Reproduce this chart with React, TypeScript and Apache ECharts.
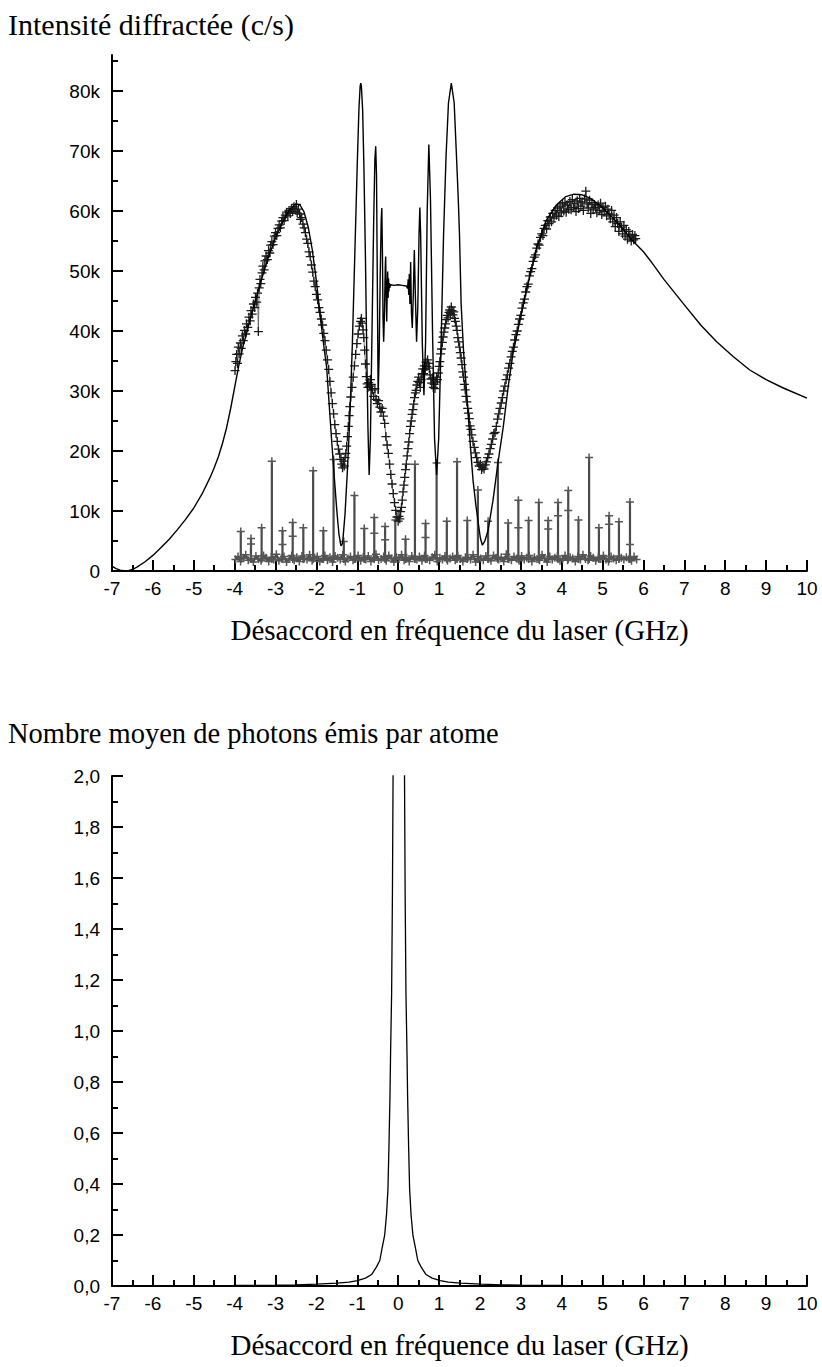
import React, { useEffect, useRef } from "react";
import * as echarts from "echarts";

// ---------- Top chart: diffracted intensity (kc/s) vs laser detuning (GHz) ----------
const topYMajor = [0, 10, 20, 30, 40, 50, 60, 70, 80];
const topYMinor = [5, 15, 25, 35, 45, 55, 65, 75, 85];

// fitted curve (x GHz, y kc/s)
const fitCurve: [number, number][] = [
  [-7.0, 0.8], [-6.9, 0.4], [-6.8, 0.15], [-6.7, 0.05], [-6.6, 0.05], [-6.5, 0.25], [-6.4, 0.6],
  [-6.2, 1.5], [-6.0, 2.6], [-5.8, 3.9], [-5.6, 5.3], [-5.4, 6.9], [-5.2, 8.6], [-5.0, 10.5],
  [-4.8, 12.8], [-4.6, 15.6], [-4.5, 17.2], [-4.4, 19.0], [-4.3, 21.2], [-4.2, 23.8], [-4.1, 27.0],
  [-4.0, 30.6], [-3.9, 34.2], [-3.8, 37.3], [-3.6, 42.5],
  [-3.4, 47.3], [-3.2, 51.8], [-3.0, 55.5], [-2.8, 58.5], [-2.65, 60.3], [-2.5, 61.2], [-2.4, 61.0],
  [-2.3, 59.8], [-2.2, 57.3], [-2.1, 53.5], [-2.0, 48.3], [-1.9, 42.0], [-1.8, 36.5], [-1.75, 34.0],
  [-1.7, 29.0], [-1.63, 22.0], [-1.55, 14.5], [-1.5, 10.0], [-1.45, 6.2], [-1.4, 4.2], [-1.36, 4.6],
  [-1.3, 9.5], [-1.24, 17.0], [-1.18, 26.0], [-1.12, 38.0], [-1.06, 53.0], [-1.0, 68.0], [-0.96, 77.0],
  [-0.93, 80.8], [-0.915, 81.3], [-0.9, 80.8], [-0.87, 77.0], [-0.84, 68.0], [-0.8, 52.0], [-0.77, 37.0],
  [-0.74, 24.0], [-0.71, 16.0], [-0.68, 22.0], [-0.64, 40.0], [-0.6, 58.0], [-0.57, 68.5], [-0.55, 70.8],
  [-0.53, 66.0], [-0.51, 48.0], [-0.49, 29.5], [-0.465, 36.0], [-0.44, 49.0], [-0.415, 58.5], [-0.4, 60.5],
  [-0.385, 53.0], [-0.37, 42.0], [-0.355, 38.2], [-0.335, 43.0], [-0.316, 50.5], [-0.306, 52.4],
  [-0.293, 46.0], [-0.28, 41.6], [-0.268, 46.5], [-0.257, 49.9], [-0.246, 45.5], [-0.236, 48.8],
  [-0.226, 46.6], [-0.216, 48.0], [-0.205, 47.2], [-0.19, 47.7], [-0.1, 47.6], [0.0, 47.7], [0.1, 47.6],
  [0.2, 47.5], [0.23, 47.1], [0.245, 48.6], [0.258, 46.0], [0.272, 49.5], [0.287, 44.5], [0.305, 51.5],
  [0.325, 43.0], [0.345, 40.5], [0.37, 46.0], [0.395, 53.5], [0.42, 46.0], [0.45, 38.2], [0.48, 44.0],
  [0.51, 56.0], [0.53, 60.6], [0.55, 56.0], [0.59, 38.0], [0.63, 29.3], [0.67, 38.0], [0.71, 60.0],
  [0.75, 71.1], [0.79, 62.0], [0.84, 40.0], [0.89, 22.0], [0.94, 16.0], [0.99, 22.0], [1.05, 38.0],
  [1.11, 56.0], [1.17, 69.0], [1.23, 78.0], [1.3, 81.3], [1.37, 78.0], [1.43, 68.5], [1.47, 62.0],
  [1.5, 56.0], [1.54, 44.5], [1.6, 36.5], [1.66, 31.0], [1.71, 26.3], [1.77, 20.5], [1.83, 15.2],
  [1.9, 11.0], [1.96, 8.0], [2.01, 5.5], [2.06, 4.3], [2.12, 5.0], [2.2, 6.8], [2.32, 11.8], [2.44, 18.0],
  [2.57, 24.0], [2.69, 30.7], [2.81, 36.3], [2.98, 41.8], [3.14, 46.8], [3.39, 54.0], [3.63, 58.5],
  [3.87, 61.0], [4.1, 62.4], [4.3, 62.8], [4.5, 62.7], [4.7, 62.1], [4.93, 61.0], [5.26, 58.8],
  [5.5, 57.0], [5.7, 55.3], [6.0, 53.2], [6.16, 51.8], [6.5, 48.6], [6.97, 44.6], [7.4, 41.0],
  [7.79, 38.2], [8.2, 35.7], [8.6, 33.5], [9.0, 31.9], [9.42, 30.5], [10.0, 28.8],
];

// measured points (black crosses)
const measured: [number, number][] = [
  [-3.99, 33.4], [-3.97, 34.9], [-3.95, 36.1], [-3.93, 34.6], [-3.91, 37.3], [-3.89, 36.2], [-3.86, 38.0],
  [-3.84, 37.1], [-3.81, 39.2], [-3.79, 38.4], [-3.76, 40.1], [-3.73, 39.5], [-3.71, 41.2], [-3.68, 40.6],
  [-3.65, 42.3], [-3.62, 41.7], [-3.6, 43.4], [-3.57, 42.8], [-3.54, 44.5], [-3.51, 43.9], [-3.49, 45.6],
  [-3.46, 44.8], [-3.44, 46.3], [-3.42, 39.9], [-3.4, 47.2], [-3.38, 48.6], [-3.36, 47.9], [-3.33, 49.7],
  [-3.31, 50.8], [-3.28, 50.2], [-3.26, 51.7], [-3.23, 52.5], [-3.2, 51.9], [-3.17, 53.4], [-3.14, 53.0],
  [-3.12, 54.3], [-3.09, 54.9], [-3.06, 54.4], [-3.03, 55.8], [-3.0, 56.4], [-2.97, 55.9], [-2.94, 57.1],
  [-2.91, 57.7], [-2.88, 57.2], [-2.85, 58.3], [-2.82, 58.9], [-2.79, 58.4], [-2.76, 59.3], [-2.73, 59.8],
  [-2.7, 59.2], [-2.67, 60.1], [-2.64, 59.6], [-2.61, 60.4], [-2.58, 59.9], [-2.55, 60.7], [-2.52, 60.2],
  [-2.49, 61.1], [-2.47, 59.7], [-2.44, 60.3], [-2.41, 59.5], [-2.39, 58.6], [-2.36, 58.9], [-2.33, 57.8],
  [-2.3, 57.2], [-2.27, 56.4], [-2.24, 55.3], [-2.21, 54.6], [-2.18, 53.2], [-2.15, 52.4], [-2.12, 51.0],
  [-2.09, 49.8], [-2.06, 48.3], [-2.03, 47.4], [-2.0, 46.1], [-1.97, 45.2], [-1.94, 43.9], [-1.91, 43.1],
  [-1.88, 42.0], [-1.85, 41.0], [-1.82, 39.6], [-1.79, 38.4], [-1.76, 36.8], [-1.73, 35.2], [-1.7, 33.6],
  [-1.67, 31.6], [-1.64, 29.7], [-1.61, 27.9], [-1.58, 26.2], [-1.55, 24.4], [-1.52, 22.9], [-1.49, 21.6],
  [-1.46, 20.3], [-1.43, 19.5], [-1.4, 18.6], [-1.38, 17.8], [-1.36, 17.2], [-1.34, 18.3], [-1.32, 17.5],
  [-1.3, 18.9], [-1.28, 19.6], [-1.26, 20.8], [-1.24, 22.4], [-1.22, 24.1], [-1.2, 25.9], [-1.18, 27.4],
  [-1.16, 29.0], [-1.13, 30.6], [-1.1, 32.3], [-1.07, 34.2], [-1.04, 36.1], [-1.01, 37.9], [-0.98, 39.5],
  [-0.95, 40.8], [-0.92, 41.6], [-0.9, 42.1], [-0.88, 41.3], [-0.86, 40.2], [-0.84, 38.9], [-0.82, 36.8],
  [-0.8, 34.5], [-0.78, 32.4], [-0.76, 31.2], [-0.74, 30.6], [-0.72, 31.4], [-0.7, 30.8], [-0.68, 31.9],
  [-0.66, 31.1], [-0.63, 30.2], [-0.6, 29.1], [-0.57, 30.4], [-0.54, 28.6], [-0.51, 27.9], [-0.48, 28.4],
  [-0.45, 27.3], [-0.42, 26.5], [-0.39, 27.1], [-0.36, 25.8], [-0.33, 24.6], [-0.3, 22.4], [-0.27, 21.0],
  [-0.24, 19.6], [-0.21, 17.8], [-0.18, 16.1], [-0.15, 14.5], [-0.12, 12.9], [-0.09, 11.4], [-0.06, 10.1],
  [-0.03, 9.0], [0.0, 8.3], [0.02, 9.1], [0.04, 8.7], [0.06, 9.9], [0.08, 10.6], [0.1, 11.8], [0.12, 13.2],
  [0.14, 14.3], [0.16, 15.6], [0.18, 16.9], [0.2, 17.8], [0.22, 19.2], [0.24, 20.4], [0.26, 21.5],
  [0.28, 22.9], [0.3, 24.1], [0.32, 25.0], [0.34, 26.1], [0.36, 26.9], [0.38, 27.8], [0.4, 28.9],
  [0.42, 29.7], [0.44, 30.1], [0.46, 31.0], [0.48, 31.6], [0.5, 32.3], [0.52, 31.4], [0.54, 30.6],
  [0.56, 31.9], [0.58, 32.8], [0.6, 33.7], [0.62, 32.9], [0.64, 34.2], [0.66, 33.6], [0.68, 34.8],
  [0.7, 34.1], [0.72, 35.2], [0.74, 34.6], [0.76, 33.8], [0.78, 32.7], [0.8, 32.0], [0.82, 31.3],
  [0.84, 32.2], [0.86, 30.6], [0.88, 31.1], [0.9, 30.4], [0.92, 31.5], [0.94, 32.3], [0.96, 31.9],
  [0.98, 33.0], [1.0, 34.1], [1.02, 34.9], [1.04, 36.2], [1.06, 37.0], [1.08, 38.1], [1.1, 39.0],
  [1.12, 39.8], [1.14, 40.5], [1.16, 41.2], [1.18, 41.9], [1.2, 42.6], [1.22, 42.2], [1.24, 43.1],
  [1.26, 43.5], [1.28, 42.9], [1.3, 44.0], [1.32, 43.4], [1.34, 42.7], [1.36, 43.2], [1.38, 42.1],
  [1.4, 41.6], [1.42, 40.8], [1.44, 40.1], [1.46, 38.9], [1.48, 38.2], [1.5, 37.3], [1.52, 36.4],
  [1.54, 35.5], [1.56, 34.4], [1.58, 33.2], [1.6, 32.3], [1.62, 31.1], [1.64, 30.2], [1.66, 29.1],
  [1.68, 28.2], [1.7, 27.1], [1.72, 26.3], [1.74, 25.4], [1.76, 24.2], [1.78, 23.6], [1.8, 22.7],
  [1.83, 21.6], [1.86, 20.6], [1.89, 19.7], [1.92, 18.9], [1.95, 18.1], [1.98, 17.5], [2.01, 17.8],
  [2.04, 16.9], [2.07, 17.3], [2.1, 17.0], [2.13, 17.7], [2.16, 18.2], [2.19, 18.9], [2.22, 19.5],
  [2.25, 20.4], [2.28, 21.1], [2.31, 22.0], [2.34, 22.9], [2.37, 23.1], [2.4, 24.1], [2.43, 25.3],
  [2.46, 26.2], [2.49, 27.1], [2.52, 28.0], [2.55, 28.9], [2.58, 30.0], [2.61, 30.8], [2.64, 31.9],
  [2.67, 32.7], [2.7, 33.8], [2.73, 34.6], [2.76, 35.7], [2.79, 36.6], [2.82, 37.3], [2.85, 38.5],
  [2.88, 39.4], [2.91, 40.0], [2.94, 41.1], [2.97, 42.0], [3.0, 42.6], [3.03, 43.8], [3.06, 44.7],
  [3.09, 45.3], [3.12, 46.5], [3.15, 47.4], [3.18, 47.8], [3.21, 49.2], [3.24, 49.9], [3.27, 50.4],
  [3.3, 51.6], [3.33, 52.3], [3.36, 52.7], [3.39, 53.8], [3.42, 54.5], [3.45, 54.3], [3.48, 55.6],
  [3.51, 56.2], [3.54, 55.9], [3.57, 57.1], [3.6, 57.6], [3.63, 57.0], [3.66, 58.4], [3.69, 57.9],
  [3.72, 59.0], [3.75, 58.2], [3.78, 59.6], [3.81, 58.8], [3.84, 60.1], [3.87, 59.3], [3.9, 60.5],
  [3.93, 59.1], [3.96, 60.8], [3.99, 59.7], [4.02, 61.2], [4.05, 60.0], [4.08, 61.4], [4.11, 59.8],
  [4.14, 61.0], [4.17, 60.3], [4.2, 61.6], [4.23, 60.2], [4.26, 61.9], [4.29, 60.6], [4.32, 61.3],
  [4.35, 59.9], [4.38, 61.7], [4.41, 60.4], [4.44, 62.1], [4.47, 60.8], [4.5, 61.5], [4.53, 60.1],
  [4.56, 62.0], [4.59, 63.3], [4.62, 61.2], [4.65, 60.5], [4.68, 61.8], [4.71, 59.6], [4.74, 61.4],
  [4.77, 60.2], [4.8, 61.1], [4.83, 60.6], [4.86, 59.7], [4.89, 61.0], [4.92, 60.1], [4.95, 61.3],
  [4.98, 59.4], [5.01, 60.6], [5.04, 59.9], [5.07, 60.8], [5.1, 59.2], [5.13, 60.3], [5.16, 59.5],
  [5.19, 58.7], [5.22, 60.1], [5.25, 58.2], [5.28, 59.3], [5.31, 57.4], [5.34, 58.9], [5.37, 57.9],
  [5.4, 56.6], [5.43, 58.2], [5.46, 57.3], [5.49, 56.2], [5.52, 57.6], [5.55, 55.8], [5.58, 56.9],
  [5.61, 55.3], [5.64, 56.6], [5.67, 55.7], [5.7, 55.0], [5.73, 56.1], [5.76, 55.2], [5.79, 55.9],
  [5.81, 55.4],
];

// grey background signal: baseline samples (kc/s) and spikes
const baselineStart = -3.98;
const baselineStep = 0.0625;
const baselineValues = [
  1.9, 2.4, 1.6, 2.2, 2.7, 1.8, 2.1, 1.5, 2.5, 2.0, 1.7, 2.6, 2.2, 1.6, 2.3, 1.9, 2.8, 1.7, 2.1, 2.4,
  1.5, 2.0, 2.6, 1.8, 2.3, 1.6, 2.5, 2.1, 1.9, 2.7, 1.7, 2.2, 2.4, 1.6, 2.0, 2.6, 1.8, 2.3, 1.5, 2.5,
  2.2, 1.9, 2.7, 1.6, 2.1, 2.4, 1.8, 2.0, 2.6, 1.7, 2.3, 1.9, 2.5, 1.6, 2.2, 2.8, 1.8, 2.0, 2.4, 1.7,
  2.6, 2.1, 1.5, 2.3, 2.0, 2.7, 1.8, 2.2, 1.6, 2.5, 2.1, 1.9, 2.4, 1.7, 2.6, 2.0, 1.8, 2.3, 2.7, 1.6,
  2.2, 1.9, 2.5, 1.7, 2.1, 2.4, 1.8, 2.6, 2.0, 1.6, 2.3, 2.2, 1.9, 2.7, 1.5, 2.4, 2.1, 1.8, 2.5, 2.0,
  1.7, 2.6, 2.2, 1.9, 2.3, 1.6, 2.8, 2.0, 1.8, 2.4, 2.1, 1.7, 2.5, 1.9, 2.2, 2.6, 1.6, 2.3, 2.0, 1.8,
  2.7, 2.1, 1.5, 2.4, 1.9, 2.2, 2.5, 1.7, 2.0, 2.6, 1.8, 2.3, 2.1, 1.6, 2.4, 1.9, 2.7, 2.0, 1.8, 2.5,
  2.2, 1.7, 2.3, 2.0, 2.6, 1.9, 1.6, 2.4, 2.1, 1.8, 2.5, 2.2, 1.9, 2.3, 2.0, 1.7, 2.4, 1.9,
];
const spikeX = [
  -3.85, -3.6, -3.34, -3.09, -2.83, -2.58, -2.32, -2.08, -1.83, -1.58, -1.33, -1.07, -0.83, -0.585,
  -0.32, -0.07, 0.18, 0.41, 0.67, 0.94, 1.19, 1.44, 1.69, 1.95, 2.2, 2.44, 2.69, 2.94, 3.19, 3.44,
  3.67, 3.91, 4.16, 4.41, 4.67, 4.91, 5.16, 5.4, 5.67,
];
const spikeTop = [
  6.6, 5.4, 7.2, 18.3, 6.7, 8.1, 7.2, 16.7, 6.7, 18.6, 4.9, 12.6, 7.1, 8.9, 7.4, 8.5, 5.3, 17.8, 7.9,
  18.0, 8.3, 18.2, 8.4, 13.5, 8.3, 18.1, 8.0, 11.8, 8.4, 11.4, 8.4, 11.4, 13.4, 8.5, 18.9, 7.2, 9.2,
  8.2, 11.5,
];
const spikeMid = [
  0, 4.5, 0, 0, 4.4, 5.8, 0, 0, 0, 0, 0, 0, 0, 6.3, 5.2, 0, 0, 0, 5.6, 0, 0, 0, 0, 0, 0, 0, 0, 7.2,
  0, 0, 7.0, 9.2, 10.1, 0, 0, 0, 7.8, 0, 4.4,
];

// ---------- Bottom chart: mean number of photons emitted per atom ----------
const bottomYMax = 2;
const photonCurve: [number, number][] = [
  [-7.0, 0.0008], [-6.0, 0.001], [-5.0, 0.0015], [-4.0, 0.0021], [-3.0, 0.0034], [-2.5, 0.0046],
  [-2.0, 0.007], [-1.5, 0.011], [-1.2, 0.0155], [-1.0, 0.021], [-0.8, 0.031], [-0.65, 0.045],
  [-0.53, 0.075], [-0.45, 0.1], [-0.385, 0.155], [-0.33, 0.2], [-0.285, 0.28], [-0.25, 0.38],
  [-0.225, 0.55], [-0.2, 0.75], [-0.185, 0.92], [-0.16, 1.15], [-0.14, 1.55], [-0.125, 2.0],
  [-0.1, 2.9], [-0.07, 4.5], [-0.04, 7.0], [0.015, 12.0], [0.07, 7.0], [0.1, 4.5], [0.13, 2.9],
  [0.155, 2.0], [0.17, 1.55], [0.19, 1.15], [0.215, 0.92], [0.23, 0.75], [0.255, 0.55], [0.28, 0.38],
  [0.315, 0.28], [0.36, 0.2], [0.415, 0.155], [0.48, 0.1], [0.56, 0.075], [0.68, 0.045], [0.83, 0.031],
  [1.03, 0.021], [1.23, 0.0155], [1.53, 0.011], [2.03, 0.007], [2.53, 0.0046], [3.03, 0.0034],
  [4.0, 0.0021], [5.0, 0.0015], [6.0, 0.0011], [7.0, 0.0009], [8.0, 0.0007], [9.0, 0.0006], [10.0, 0.0005],
];

const topTitle = "Intensité diffractée (c/s)";
const bottomTitle = "Nombre moyen de photons émis par atome";
const xName = "Désaccord en fréquence du laser (GHz)";

const PLUS = "path://M0,5L10,5M5,0L5,10";

export default function App() {
  const ref = useRef<HTMLDivElement>(null);

  useEffect(() => {
    if (!ref.current) return;
    const chart = echarts.init(ref.current, undefined, { renderer: "svg" });

    // grey series: baseline samples merged with spike excursions
    const grey: { x: number; y: number }[] = [];
    baselineValues.forEach((v, i) => grey.push({ x: baselineStart + i * baselineStep, y: v }));
    spikeX.forEach((sx, i) => {
      grey.push({ x: sx, y: 2.0 });
      if (spikeMid[i] > 0) grey.push({ x: sx, y: spikeMid[i] });
      grey.push({ x: sx, y: spikeTop[i] });
      grey.push({ x: sx, y: 2.1 });
    });
    grey.sort((a, b) => a.x - b.x);
    const greyData = grey.map((p) => [p.x, p.y]);

    const axisColor = "#000";
    const labelFont = { fontFamily: "Liberation Sans", fontSize: 19, color: "#000" };
    const nameFont = { fontFamily: "Liberation Serif", fontSize: 29, color: "#000" };

    const makeX = (gridIndex: number) => ({
      type: "value",
      gridIndex,
      min: -7,
      max: 10,
      interval: 1,
      name: xName,
      nameLocation: "middle",
      nameGap: 44,
      nameTextStyle: nameFont,
      axisLine: { show: true, onZero: false, lineStyle: { color: axisColor, width: 2 } },
      axisTick: { show: true, inside: true, length: 11, lineStyle: { color: axisColor, width: 2 } },
      minorTick: { show: true, splitNumber: 2, length: 6, lineStyle: { color: axisColor, width: 2 } },
      axisLabel: { ...labelFont, margin: 8, formatter: (v: number) => String(v) },
      splitLine: { show: false },
    });

    const option: any = {
      animation: false,
      backgroundColor: "#fff",
      graphic: [
        {
          type: "text",
          left: 8,
          top: 9,
          style: { text: topTitle, font: '30px "Liberation Serif"', fill: "#000" },
        },
        {
          type: "text",
          left: 8,
          top: 719,
          style: { text: bottomTitle, font: '28.5px "Liberation Serif"', fill: "#000" },
        },
      ],
      grid: [
        { left: 112, right: 15, top: 55, height: 516 },
        { left: 112, right: 15, top: 776, height: 510 },
      ],
      xAxis: [makeX(0), makeX(1)],
      yAxis: [
        {
          type: "value",
          gridIndex: 0,
          min: 0,
          max: 86,
          interval: 10,
          axisLine: { show: true, onZero: false, lineStyle: { color: axisColor, width: 2 } },
          axisTick: {
            show: true,
            inside: true,
            length: 11,
            lineStyle: { color: axisColor, width: 2 },
            customValues: topYMajor,
          },
          axisLabel: {
            ...labelFont,
            margin: 12,
            customValues: topYMajor,
            formatter: (v: number) => (v === 0 ? "0" : v + "k"),
          },
          splitLine: { show: false },
        },
        {
          type: "value",
          gridIndex: 0,
          min: 0,
          max: 86,
          interval: 10,
          position: "left",
          axisLine: { show: false, onZero: false },
          axisTick: {
            show: true,
            inside: true,
            length: 6,
            lineStyle: { color: axisColor, width: 2 },
            customValues: topYMinor,
          },
          axisLabel: { show: false },
          splitLine: { show: false },
        },
        {
          type: "value",
          gridIndex: 1,
          min: 0,
          max: bottomYMax,
          interval: 0.2,
          axisLine: { show: true, onZero: false, lineStyle: { color: axisColor, width: 2 } },
          axisTick: { show: true, inside: true, length: 11, lineStyle: { color: axisColor, width: 2 } },
          minorTick: { show: true, splitNumber: 2, length: 6, lineStyle: { color: axisColor, width: 2 } },
          axisLabel: {
            ...labelFont,
            margin: 12,
            formatter: (v: number) => v.toFixed(1).replace(".", ","),
          },
          splitLine: { show: false },
        },
      ],
      series: [
        {
          type: "line",
          xAxisIndex: 0,
          yAxisIndex: 0,
          data: greyData,
          showSymbol: true,
          showAllSymbol: true,
          symbol: PLUS,
          symbolSize: 8,
          itemStyle: { color: "#555", borderColor: "#555", borderWidth: 1.5 },
          lineStyle: { color: "#4a4a4a", width: 2.2 },
          z: 2,
        },
        {
          type: "line",
          xAxisIndex: 0,
          yAxisIndex: 0,
          data: measured,
          showSymbol: true,
          showAllSymbol: true,
          symbol: PLUS,
          symbolSize: 9,
          itemStyle: { color: "#1a1a1a", borderColor: "#1a1a1a", borderWidth: 1.3 },
          lineStyle: { color: "#444", width: 0.7 },
          z: 3,
        },
        {
          type: "line",
          xAxisIndex: 0,
          yAxisIndex: 0,
          data: fitCurve,
          showSymbol: false,
          lineStyle: { color: "#000", width: 1.4 },
          z: 4,
        },
        {
          type: "line",
          xAxisIndex: 1,
          yAxisIndex: 2,
          data: photonCurve,
          showSymbol: false,
          lineStyle: { color: "#000", width: 1.3 },
          clip: true,
          z: 4,
        },
      ],
    };

    chart.setOption(option);
    return () => chart.dispose();
  }, []);

  return (
    <div
      ref={ref}
      style={{ position: "absolute", left: 0, top: 0, width: 822, height: 1367, background: "#fff" }}
    />
  );
}
